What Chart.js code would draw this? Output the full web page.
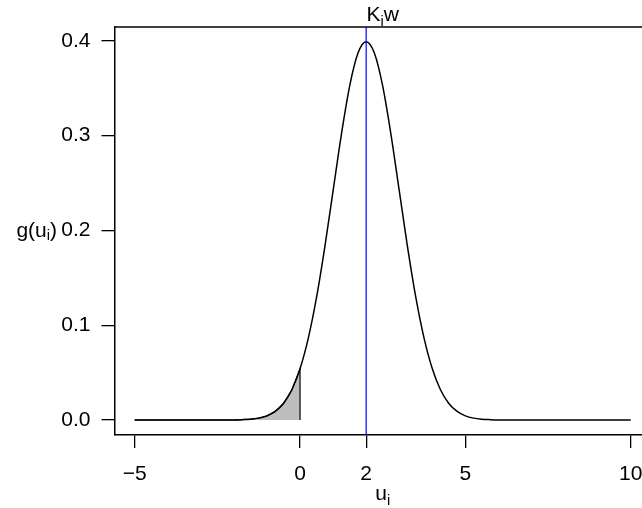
<!DOCTYPE html>
<html>
<head>
<meta charset="utf-8">
<script src="https://cdn.jsdelivr.net/npm/chart.js@4.4.0/dist/chart.umd.min.js"></script>
<style>
  html, body { margin: 0; padding: 0; background: #fff; }
</style>
</head>
<body>
<canvas id="densityChart" width="642" height="508"></canvas>
<script>
var uValues = [-5, -4, -3, -2.5, -2, -1.75, -1.5, -1.25, -1, -0.75, -0.5, -0.25, 0,
  0.25, 0.5, 0.75, 1, 1.25, 1.5, 1.75, 2, 2.25, 2.5, 2.75, 3, 3.25, 3.5, 3.75, 4,
  4.25, 4.5, 4.75, 5, 5.25, 5.5, 5.75, 6, 6.5, 7, 8, 10];
var gValues = [0, 0, 0, 0, 0.0001, 0.0004, 0.0009, 0.0020, 0.0044, 0.0091, 0.0175, 0.0317, 0.0540,
  0.0863, 0.1295, 0.1826, 0.2420, 0.3011, 0.3521, 0.3867, 0.3989, 0.3867, 0.3521, 0.3011, 0.2420,
  0.1826, 0.1295, 0.0863, 0.0540, 0.0317, 0.0175, 0.0091, 0.0044, 0.0020, 0.0009, 0.0004, 0.0001,
  0, 0, 0, 0];

var xTicks = [-5, 0, 2, 5, 10];
var yTicks = [0, 0.1, 0.2, 0.3, 0.4];
var shadeUpTo = 0;   // shaded tail ends here
var markerU = 2;     // blue line, K_i w

var FONT = "'Liberation Sans', Arial, sans-serif";
var FONT_SIZE = 21;

var curvePoints = uValues.map(function (u, i) { return { x: u, y: gValues[i] }; });
var shadePoints = curvePoints.filter(function (p) { return p.x <= shadeUpTo; });
shadePoints.push({ x: shadeUpTo, y: 0 });

// text with a subscript part, parts = [[text, isSub], ...]
function drawSubText(ctx, parts, x, y, align) {
  var sizes = parts.map(function (p) { return p[1] ? FONT_SIZE * 0.7 : FONT_SIZE; });
  var total = 0;
  parts.forEach(function (p, i) {
    ctx.font = sizes[i] + "px " + FONT;
    total += ctx.measureText(p[0]).width;
  });
  var cx = align === "center" ? x - total / 2 : align === "right" ? x - total : x;
  ctx.textAlign = "left";
  parts.forEach(function (p, i) {
    ctx.font = sizes[i] + "px " + FONT;
    ctx.fillText(p[0], cx, p[1] ? y + FONT_SIZE * 0.22 : y);
    cx += ctx.measureText(p[0]).width;
  });
}

var rExtras = {
  id: "rExtras",
  afterDatasetsDraw: function (chart) {
    var ctx = chart.ctx, area = chart.chartArea;
    var mx = chart.scales.x.getPixelForValue(markerU);
    ctx.save();
    ctx.strokeStyle = "#0000ff";
    ctx.lineWidth = 1.2;
    ctx.beginPath();
    ctx.moveTo(mx, area.top);
    ctx.lineTo(mx, area.bottom);
    ctx.stroke();
    // top of the box
    ctx.strokeStyle = "#000";
    ctx.lineWidth = 1.5;
    ctx.beginPath();
    ctx.moveTo(area.left, area.top);
    ctx.lineTo(area.right, area.top);
    ctx.stroke();
    ctx.restore();
  },
  afterDraw: function (chart) {
    var ctx = chart.ctx;
    var midX = chart.scales.x.getPixelForValue(2.5);
    ctx.save();
    ctx.fillStyle = "#000";
    ctx.textBaseline = "alphabetic";
    drawSubText(ctx, [["K", false], ["i", true], ["w", false]], midX, 21, "center");
    drawSubText(ctx, [["u", false], ["i", true]], midX, 500, "center");
    ctx.textBaseline = "middle";
    drawSubText(ctx, [["g(u", false], ["i", true], [")", false]], 57, chart.scales.y.getPixelForValue(0.2) + 1, "right");
    ctx.restore();
  }
};

var tickFont = { family: FONT, size: FONT_SIZE };

var densityChart = new Chart(document.getElementById("densityChart"), {
  type: "line",
  data: {
    datasets: [
      {
        data: curvePoints,
        borderColor: "#000",
        borderWidth: 1.5,
        pointRadius: 0,
        cubicInterpolationMode: "monotone",
        fill: false,
        order: 0,
      },
      {
        data: shadePoints,
        borderColor: "#000",
        borderWidth: 1.2,
        backgroundColor: "#bebebe",
        pointRadius: 0,
        tension: 0,
        fill: "origin",
        order: 1,
      },
    ],
  },
  options: {
    responsive: false,
    animation: false,
    devicePixelRatio: 1,
    layout: { padding: { top: 27, left: 0, right: 0, bottom: 0 } },
    plugins: { legend: { display: false }, tooltip: { enabled: false } },
    scales: {
      x: {
        type: "linear",
        min: -5.61,
        max: 10.34,
        afterBuildTicks: function (scale) {
          scale.ticks = xTicks.map(function (v) { return { value: v }; });
        },
        afterFit: function (scale) {
          scale.height = 73;
          scale.paddingLeft = 0;
          scale.paddingRight = 0;
        },
        grid: { drawOnChartArea: false, tickLength: 13, lineWidth: 1.3, color: "#000" },
        border: { display: true, color: "#000", width: 1.5 },
        ticks: {
          color: "#000",
          font: tickFont,
          padding: 14,
          maxRotation: 0,
          autoSkip: false,
          callback: function (v) { return v < 0 ? "\u2212" + Math.abs(v) : String(v); },
        },
      },
      y: {
        min: -0.0158,
        max: 0.4145,
        afterBuildTicks: function (scale) {
          scale.ticks = yTicks.map(function (v) { return { value: v }; });
        },
        afterFit: function (scale) {
          scale.width = 114.5;
          scale.paddingTop = 0;
          scale.paddingBottom = 0;
        },
        grid: { drawOnChartArea: false, tickLength: 13, lineWidth: 1.3, color: "#000" },
        border: { display: true, color: "#000", width: 1.5 },
        ticks: {
          color: "#000",
          font: tickFont,
          padding: 11,
          autoSkip: false,
          callback: function (v) { return v.toFixed(1); },
        },
      },
    },
  },
  plugins: [rExtras],
});
</script>
</body>
</html>
